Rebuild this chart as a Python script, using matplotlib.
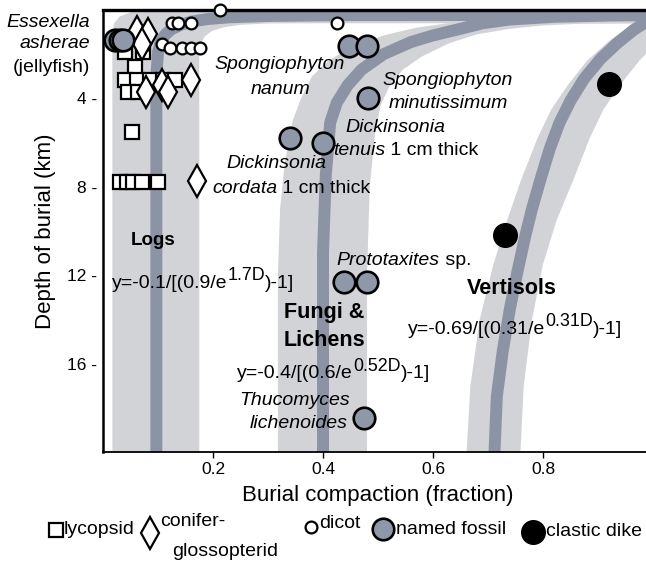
import matplotlib
matplotlib.use('Agg')
import matplotlib.pyplot as plt
from matplotlib.transforms import offset_copy
import numpy as np

plt.rcParams['font.family'] = ['Liberation Sans', 'DejaVu Sans']

# fossil data: burial compaction (fraction) vs depth of burial (km)
lycopsid_x = [0.04, 0.073, 0.058, 0.04, 0.062, 0.085, 0.109, 0.131, 0.045, 0.064,
              0.053, 0.031, 0.043, 0.055, 0.07, 0.1]
lycopsid_d = [1.92, 1.92, 2.6, 3.19, 3.19, 3.19, 3.19, 3.19, 3.73, 3.73,
              5.54, 7.8, 7.8, 7.8, 7.8, 7.8]

conifer_x = [0.062, 0.082, 0.07, 0.107, 0.16, 0.078, 0.118, 0.171]
conifer_d = [1.0, 1.1, 1.55, 3.4, 3.19, 3.73, 3.73, 7.76]

dicot_x = [0.125, 0.136, 0.16, 0.213, 0.425, 0.107, 0.122, 0.144, 0.16, 0.176]
dicot_d = [0.57, 0.57, 0.57, 0.0, 0.61, 1.52, 1.74, 1.74, 1.74, 1.74]

named_x = [0.022, 0.03, 0.037, 0.447, 0.48, 0.482, 0.34, 0.40, 0.438, 0.48, 0.475]
named_d = [1.38, 1.38, 1.38, 1.61, 1.61, 3.96, 5.77, 6.0, 12.33, 12.33, 18.48]

dike_x = [0.92, 0.731]
dike_d = [3.37, 10.2]

# fitted compaction curves (centre line) and their spread
logs_mid_x = [0.097, 0.097, 0.1, 0.105, 0.113, 0.124, 0.14, 0.16, 0.19, 0.23, 0.3, 0.45, 1.05]
logs_mid_d = [20.5, 3.0, 1.9, 1.45, 1.12, 0.88, 0.68, 0.53, 0.41, 0.33, 0.27, 0.23, 0.22]
logs_lo_x = [0.017, 0.017, 0.02, 0.03, 0.05, 0.1, 1.05]
logs_lo_d = [20.5, 1.2, 0.6, 0.3, 0.1, -0.2, -0.2]
logs_hi_x = [0.175, 0.175, 0.178, 0.185, 0.198, 0.22, 0.25, 0.3, 0.4, 1.05]
logs_hi_d = [20.5, 2.0, 1.5, 1.2, 0.95, 0.78, 0.67, 0.61, 0.6, 0.6]

fungi_mid_x = [0.40, 0.40, 0.405, 0.413, 0.425, 0.445, 0.47, 0.51, 0.56, 0.6, 0.65, 0.69,
               0.74, 0.82, 0.92, 1.05]
fungi_mid_d = [20.5, 11.0, 7.5, 5.1, 4.2, 3.4, 2.7, 2.0, 1.45, 1.15, 0.85, 0.6,
               0.43, 0.31, 0.25, 0.22]
fungi_lo_x = [0.318, 0.318, 0.322, 0.33, 0.345, 0.36, 0.38, 0.41, 0.45, 0.51, 0.57, 0.64,
              0.72, 0.85, 1.05]
fungi_lo_d = [20.5, 12.0, 9.0, 7.0, 5.0, 4.0, 3.0, 2.3, 1.7, 1.15, 0.8, 0.55,
              0.35, 0.15, -0.2]
fungi_hi_x = [0.48, 0.48, 0.485, 0.495, 0.505, 0.52, 0.545, 0.58, 0.63, 0.68, 0.74, 0.8,
              0.87, 1.05]
fungi_hi_d = [20.5, 12.0, 8.0, 5.5, 4.3, 3.5, 2.7, 2.1, 1.5, 1.1, 0.85, 0.7,
              0.62, 0.6]

vert_mid_x = [0.711, 0.716, 0.727, 0.74, 0.753, 0.768, 0.78, 0.795, 0.812, 0.83, 0.85,
              0.875, 0.905, 0.935, 0.965, 0.99, 1.05]
vert_mid_d = [20.5, 17.5, 15.4, 13.5, 11.9, 10.2, 9.0, 7.7, 6.3, 5.1, 4.1,
              3.1, 2.2, 1.5, 0.9, 0.5, 0.25]
vert_lo_x = [0.66, 0.668, 0.685, 0.71, 0.735, 0.76, 0.79, 0.815, 0.845, 0.88, 0.92,
             0.96, 1.0, 1.05]
vert_lo_d = [20.5, 17.0, 14.0, 11.5, 9.5, 7.7, 5.8, 4.5, 3.4, 2.3, 1.4,
             0.7, 0.25, -0.2]
vert_hi_x = [0.758, 0.765, 0.78, 0.8, 0.825, 0.855, 0.885, 0.91, 0.94, 0.975, 1.01, 1.05]
vert_hi_d = [20.5, 17.0, 14.0, 11.5, 9.5, 7.7, 5.8, 4.5, 3.4, 2.3, 1.4, 0.8]

light = '#d2d3d6'
dark = '#8b93a4'
fossil_grey = '#8f98a9'

fig = plt.figure(figsize=(6.46, 5.64), dpi=100)
W, H = 646.0, 564.0
ax = fig.add_axes([103 / W, 1 - 452 / H, 550 / W, 442 / H])
ax.set_xlim(0, 1)
ax.set_ylim(20, 0)

for lo_x, lo_d, hi_x, hi_d in [(logs_lo_x, logs_lo_d, logs_hi_x, logs_hi_d),
                               (fungi_lo_x, fungi_lo_d, fungi_hi_x, fungi_hi_d),
                               (vert_lo_x, vert_lo_d, vert_hi_x, vert_hi_d)]:
    ax.fill(np.r_[lo_x, hi_x[::-1]], np.r_[lo_d, hi_d[::-1]], color=light, lw=0, zorder=1)

for mx, md in [(logs_mid_x, logs_mid_d), (fungi_mid_x, fungi_mid_d), (vert_mid_x, vert_mid_d)]:
    ax.plot(mx, md, color=dark, lw=8.6, solid_capstyle='butt', solid_joinstyle='round', zorder=2)

mk = dict(ls='none', clip_on=False, zorder=6)
ax.plot(lycopsid_x, lycopsid_d, marker='s', ms=10.5, mfc='white', mec='black', mew=1.6, **mk)
ax.plot(conifer_x, conifer_d, marker='d', ms=16, mfc='white', mec='black', mew=1.6, **mk)
ax.plot(dicot_x, dicot_d, marker='o', ms=8.5, mfc='white', mec='black', mew=1.6, **mk)
ax.plot(named_x, named_d, marker='o', ms=15.5, mfc=fossil_grey, mec='black', mew=1.9, **mk)
ax.plot(dike_x, dike_d, marker='o', ms=17, mfc='black', mec='black', mew=1, **mk)

# axes frame
ax.spines['right'].set_visible(False)
ax.spines['top'].set_linewidth(2.4)
ax.spines['left'].set_linewidth(1.8)
ax.spines['bottom'].set_linewidth(1.3)
for s in ax.spines.values():
    s.set_zorder(4)

ax.set_yticks([4, 8, 12, 16])
ax.set_yticklabels(['4 -', '8 -', '12 -', '16 -'])
ax.tick_params(axis='y', length=0, pad=4, labelsize=12.5)
ax.set_xticks([0.2, 0.4, 0.6, 0.8])
ax.set_xticklabels(['0.2', '0.4', '0.6', '0.8'])
ax.tick_params(axis='x', length=4, width=1, pad=3, labelsize=12.5)
ax.set_xlabel('Burial compaction (fraction)', fontsize=16, labelpad=6)
ax.set_ylabel('Depth of burial (km)', fontsize=16, labelpad=8)

renderer = fig.canvas.get_renderer()


def chain_text(x, y, parts, size):
    """write pieces one after another on a shared baseline (for mixed styles / superscripts)"""
    dx = 0.0
    for s, style, scale, rise in parts:
        tr = offset_copy(ax.transData, fig=fig, x=dx, y=rise, units='points')
        t = ax.text(x, y, s, transform=tr, fontsize=size * scale, style=style,
                    ha='left', va='baseline', clip_on=False, zorder=7)
        dx += t.get_window_extent(renderer).width * 72.0 / fig.dpi


fs = 14
it = dict(fontsize=fs, style='italic', clip_on=False, zorder=7)
# Essexella label left of the axis
ax.text(-0.024, 0.57, 'Essexella', ha='right', va='center', **it)
ax.text(-0.024, 1.52, 'asherae', ha='right', va='center', **it)
ax.text(-0.024, 2.6, '(jellyfish)', ha='right', va='center', fontsize=fs, clip_on=False)

ax.text(0.322, 2.47, 'Spongiophyton', ha='center', va='center', **it)
ax.text(0.322, 3.6, 'nanum', ha='center', va='center', **it)
ax.text(0.626, 3.19, 'Spongiophyton', ha='center', va='center', **it)
ax.text(0.628, 4.23, 'minutissimum', ha='center', va='center', **it)
ax.text(0.531, 5.32, 'Dickinsonia', ha='center', va='center', **it)
chain_text(0.418, 6.54, [('tenuis', 'italic', 1, 0), (' 1 cm thick', 'normal', 1, 0)], fs)
ax.text(0.315, 6.95, 'Dickinsonia', ha='center', va='center', **it)
chain_text(0.198, 8.3, [('cordata', 'italic', 1, 0), (' 1 cm thick', 'normal', 1, 0)], fs)
chain_text(0.425, 11.52, [('Prototaxites', 'italic', 1, 0), (' sp.', 'normal', 1, 0)], fs)
ax.text(0.449, 17.67, 'Thucomyces', ha='right', va='center', **it)
ax.text(0.445, 18.71, 'lichenoides', ha='right', va='center', **it)

bold = dict(fontweight='bold', ha='center', va='center')
ax.text(0.091, 10.43, 'Logs', fontsize=13.5, **bold)
ax.text(0.402, 13.69, 'Fungi &', fontsize=15.5, **bold)
ax.text(0.402, 14.95, 'Lichens', fontsize=15.5, **bold)
ax.text(0.744, 12.6, 'Vertisols', fontsize=15.5, **bold)

# fitted equations, superscripts nearly full size as in the original
chain_text(0.016, 12.56, [('y=-0.1/[(0.9/e', 'normal', 1, 0), ('1.7D', 'normal', 0.92, 5.5),
                          (')-1]', 'normal', 1, 0)], fs)
chain_text(0.244, 16.67, [('y=-0.4/[(0.6/e', 'normal', 1, 0), ('0.52D', 'normal', 0.92, 5.5),
                          (')-1]', 'normal', 1, 0)], fs)
chain_text(0.555, 14.64, [('y=-0.69/[(0.31/e', 'normal', 1, 0), ('0.31D', 'normal', 0.92, 5.5),
                          (')-1]', 'normal', 1, 0)], fs)


# legend row along the bottom (figure pixels)
def fx(px):
    return px / W


def fy(py):
    return 1 - py / H


lg = dict(transform=fig.transFigure, clip_on=False, ls='none')
lfs = 14
ax.plot([fx(56)], [fy(530)], marker='s', ms=10.5, mfc='white', mec='black', mew=1.6, **lg)
fig.text(fx(64), fy(530), 'lycopsid', fontsize=lfs, ha='left', va='center')
ax.plot([fx(150)], [fy(533)], marker='d', ms=16, mfc='white', mec='black', mew=1.6, **lg)
fig.text(fx(160), fy(521), 'conifer-', fontsize=lfs, ha='left', va='center')
fig.text(fx(172), fy(552), 'glossopterid', fontsize=lfs, ha='left', va='center')
ax.plot([fx(311)], [fy(527)], marker='o', ms=8.5, mfc='white', mec='black', mew=1.6, **lg)
fig.text(fx(319), fy(524), 'dicot', fontsize=lfs, ha='left', va='center')
ax.plot([fx(383)], [fy(529)], marker='o', ms=15.5, mfc=fossil_grey, mec='black', mew=1.9, **lg)
fig.text(fx(396), fy(529), 'named fossil', fontsize=lfs, ha='left', va='center')
ax.plot([fx(533)], [fy(532)], marker='o', ms=17, mfc='black', mec='black', mew=1, **lg)
fig.text(fx(546), fy(532), 'clastic dike', fontsize=lfs, ha='left', va='center')

fig.savefig('out.png', dpi=100)
